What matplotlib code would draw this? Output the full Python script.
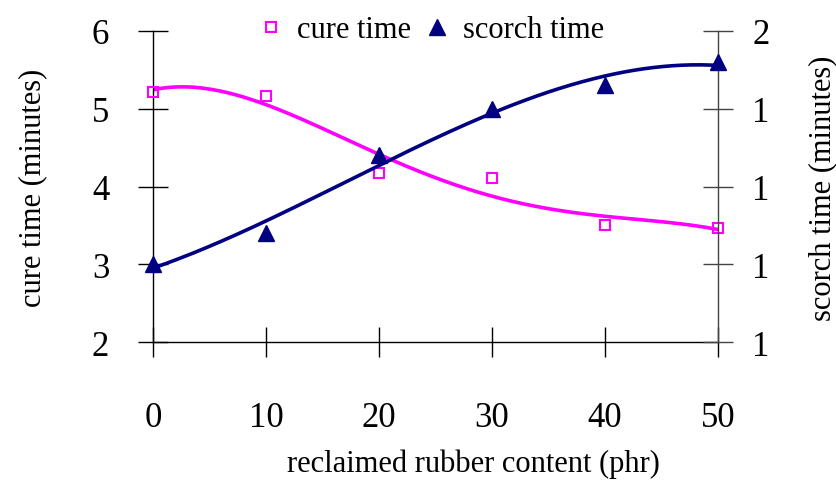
import numpy as np
import matplotlib
matplotlib.use("Agg")
import matplotlib.pyplot as plt
from matplotlib.ticker import StrMethodFormatter

# data
reclaim = [0, 10, 20, 30, 40, 50]                        # phr
cure_time = [5.22, 5.17, 4.18, 4.11, 3.50, 3.47]         # minutes
scorch_time = [1.00, 1.08, 1.28, 1.40, 1.46, 1.52]       # minutes

x_ticks = [0, 10, 20, 30, 40, 50]
cure_ticks = [2, 3, 4, 5, 6]
scorch_ticks = [0.8, 1.0, 1.2, 1.4, 1.6]

MAGENTA = "#FF00FF"
NAVY = "#000080"

plt.rcParams["font.family"] = ["Liberation Serif", "DejaVu Serif"]

fig = plt.figure(figsize=(8.37, 4.85), dpi=100)
ax = fig.add_axes([153 / 837, 1 - 343 / 485, 565 / 837, 311 / 485])
ax2 = ax.twinx()

# polynomial trendlines fitted to the measured points (like the spreadsheet trendlines)
xf = np.linspace(0, 50, 300)
cure_fit = np.polyval(np.polyfit(reclaim, cure_time, 4), xf)
scorch_fit = np.polyval(np.polyfit(reclaim, scorch_time, 3), xf)

ax.plot(xf, cure_fit, color=MAGENTA, lw=2.6, zorder=2)
ax2.plot(xf, scorch_fit, color=NAVY, lw=2.6, zorder=2)

h1, = ax.plot(reclaim, cure_time, ls="none", marker="s", ms=7.5,
              mfc="none", mec=MAGENTA, mew=1.5, clip_on=False, zorder=3,
              label="cure time")
h2, = ax2.plot(reclaim, scorch_time, ls="none", marker="^", ms=11,
               color=NAVY, clip_on=False, zorder=3, label="scorch time")

ax.set_xlim(0, 50)
ax.set_ylim(2, 6)
ax2.set_ylim(0.8, 1.6)
ax.set_xticks(x_ticks)
ax.set_yticks(cure_ticks)
ax2.set_yticks(scorch_ticks)
ax2.yaxis.set_major_formatter(StrMethodFormatter("{x:.0f}"))

for a in (ax, ax2):
    a.spines["top"].set_visible(False)
    a.set_facecolor("none")
ax.spines["right"].set_visible(False)
ax2.spines["left"].set_visible(False)
ax2.spines["bottom"].set_visible(False)
for sp in ("left", "bottom"):
    ax.spines[sp].set_linewidth(1.0)
ax2.spines["right"].set_linewidth(1.0)
ax2.spines["right"].set_color("#444444")

ax.tick_params(axis="x", direction="inout", length=21, width=1, pad=32, labelsize=25)
ax.tick_params(axis="y", direction="inout", length=21, width=1, pad=21, labelsize=25)
ax2.tick_params(axis="y", direction="inout", length=21, width=1, pad=14, labelsize=25,
                color="#444444")

fig.text(33 / 837, 1 - 188 / 485, "cure time (minutes)", rotation=90,
         ha="center", va="center", fontsize=22)
fig.text(823 / 837, 1 - 188 / 485, "scorch time (minutes)", rotation=90,
         ha="center", va="center", fontsize=22)
fig.text(473 / 837, 1 - 464 / 485, "reclaimed rubber content (phr)",
         ha="center", va="center", fontsize=22)

fig.legend(handles=[h1, h2], loc="center", bbox_to_anchor=(431 / 837, 1 - 31 / 485),
           ncol=2, frameon=False, fontsize=22, handlelength=0.8,
           handletextpad=0.45, columnspacing=0.45, borderpad=0)

fig.savefig("out.png", dpi=100)
